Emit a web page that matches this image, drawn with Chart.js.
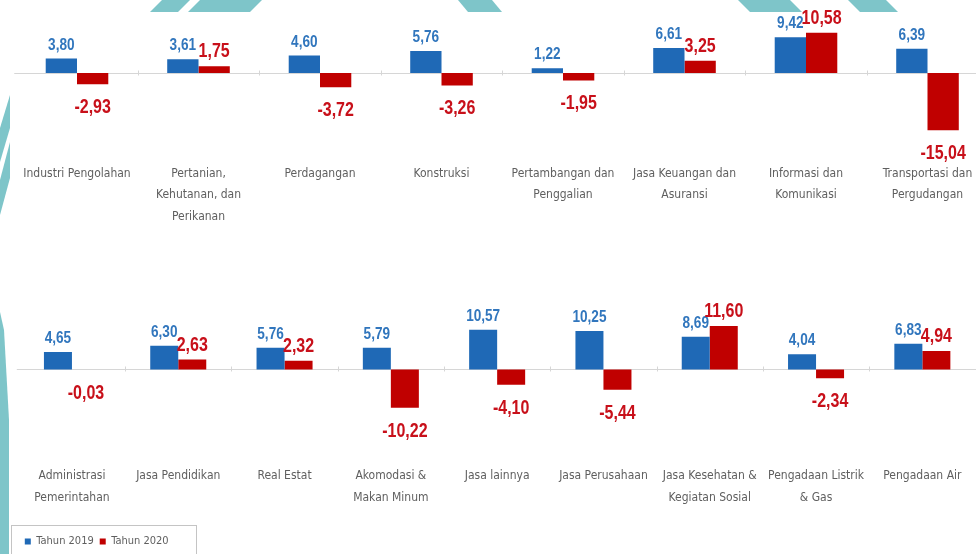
<!DOCTYPE html>
<html>
<head>
<meta charset="utf-8">
<script src="https://cdn.jsdelivr.net/npm/chart.js@4.4.1/dist/chart.umd.min.js"></script>
<style>
  html, body { margin: 0; padding: 0; width: 976px; height: 554px; overflow: hidden; background: #fff; }
  #deco { position: absolute; left: 0; top: 0; }
  canvas { position: absolute; left: 0; }
</style>
</head>
<body>
<svg id="deco" width="976" height="554">
  <g fill="#7ec5c9">
    <polygon points="162,0 190,0 178,12 150,12" />
    <polygon points="200,0 262,0 250,12 188,12" />
    <polygon points="458,0 492,0 502,12 468,12" />
    <polygon points="738,0 790,0 802,12 750,12" />
    <polygon points="848,0 886,0 898,12 860,12" />
    <polygon points="10,95 10,128 0,162 0,128" />
    <polygon points="10,142 10,178 0,215 0,180" />
    <polygon points="0,312 4,330 9,420 9,554 0,554" />
  </g>
  <rect x="10" y="12" width="966" height="542" fill="#fff" />
</svg>
<canvas id="topChart" width="1000" height="260" style="top:0px"></canvas>
<canvas id="bottomChart" width="1000" height="274" style="top:280px"></canvas>
<script>
const seriesNames = ["Tahun 2019", "Tahun 2020"];

const topCategories = [
  ["Industri Pengolahan"],
  ["Pertanian,", "Kehutanan, dan", "Perikanan"],
  ["Perdagangan"],
  ["Konstruksi"],
  ["Pertambangan dan", "Penggalian"],
  ["Jasa Keuangan dan", "Asuransi"],
  ["Informasi dan", "Komunikasi"],
  ["Transportasi dan", "Pergudangan"],
];
const top2019 = [3.80, 3.61, 4.60, 5.76, 1.22, 6.61, 9.42, 6.39];
const top2020 = [-2.93, 1.75, -3.72, -3.26, -1.95, 3.25, 10.58, -15.04];

const bottomCategories = [
  ["Administrasi", "Pemerintahan"],
  ["Jasa Pendidikan"],
  ["Real Estat"],
  ["Akomodasi &", "Makan Minum"],
  ["Jasa lainnya"],
  ["Jasa Perusahaan"],
  ["Jasa Kesehatan &", "Kegiatan Sosial"],
  ["Pengadaan Listrik", "& Gas"],
  ["Pengadaan Air"],
];
const bottom2019 = [4.65, 6.30, 5.76, 5.79, 10.57, 10.25, 8.69, 4.04, 6.83];
const bottom2020 = [-0.03, 2.63, 2.32, -10.22, -4.10, -5.44, 11.60, -2.34, 4.94];

const condensed = "'DejaVu Sans Condensed', 'Liberation Sans', sans-serif";
const labelFont = "'Liberation Sans', Arial, sans-serif";
const barColors = ["#1f69b6", "#c00000"];
const labelColors = ["#3176bd", "#c8101a"];

const fmt = (v) => v.toFixed(2).replace(".", ",");

// value labels above positive bars, below negative ones (squeezed like Arial Narrow)
const valueLabels = {
  id: "valueLabels",
  afterDatasetsDraw(chart) {
    const ctx = chart.ctx;
    chart.data.datasets.forEach((ds, i) => {
      const meta = chart.getDatasetMeta(i);
      meta.data.forEach((bar, j) => {
        const v = ds.data[j];
        const y = v >= 0 ? bar.y - 9 : bar.y + 29;
        ctx.save();
        ctx.font = (i === 0 ? "bold 17px " : "bold 20px ") + labelFont;
        ctx.fillStyle = labelColors[i];
        ctx.textAlign = "center";
        ctx.textBaseline = "alphabetic";
        ctx.translate(bar.x, y);
        ctx.scale(0.8, 1);
        ctx.fillText(fmt(v), 0, 0);
        ctx.restore();
      });
    });
  },
};

// grey zero line with little marks between categories
const zeroLine = {
  id: "zeroLine",
  beforeDatasetsDraw(chart) {
    const { ctx, chartArea, scales } = chart;
    const y0 = Math.round(scales.y.getPixelForValue(0)) + 0.5;
    ctx.save();
    ctx.strokeStyle = "#d6d6d6";
    ctx.lineWidth = 1;
    ctx.beginPath();
    ctx.moveTo(chartArea.left - 2, y0);
    ctx.lineTo(chart.width, y0);
    for (let i = 1; i < chart.data.labels.length; i++) {
      const px = Math.round(scales.x.getPixelForValue(i - 0.5)) + 0.5;
      ctx.moveTo(px, y0 - 3);
      ctx.lineTo(px, y0 + 2);
    }
    ctx.stroke();
    ctx.restore();
  },
};

const legendBox = {
  id: "legendBox",
  afterDraw(chart) {
    if (!chart.options.plugins.legend.display) return;
    const hb = chart.legend.legendHitBoxes[0];
    const mid = hb.top + hb.height / 2;
    const ctx = chart.ctx;
    ctx.save();
    ctx.strokeStyle = "#c4c4c4";
    ctx.lineWidth = 1;
    ctx.strokeRect(11.5, Math.round(mid - 17) + 0.5, 185, 40);
    ctx.restore();
  },
};

function makeChart(id, labels, a, b, cfg) {
  return new Chart(document.getElementById(id), {
    type: "bar",
    data: {
      labels,
      datasets: [
        { label: seriesNames[0], data: a, backgroundColor: barColors[0] },
        { label: seriesNames[1], data: b, backgroundColor: barColors[1] },
      ],
    },
    options: {
      responsive: false,
      animation: false,
      devicePixelRatio: 1,
      layout: { padding: cfg.padding },
      datasets: { bar: { categoryPercentage: cfg.catPct, barPercentage: 1 } },
      scales: {
        x: {
          grid: { display: false, drawTicks: false },
          border: { display: false },
          ticks: {
            padding: cfg.tickPad,
            color: "#5f5f5f",
            maxRotation: 0,
            autoSkip: false,
            font: { family: condensed, size: 12, lineHeight: 1.8 },
          },
          afterFit: (scale) => {
            scale.height = cfg.xHeight;
            scale.paddingLeft = 0;
            scale.paddingRight = 0;
          },
        },
        y: { display: false, min: cfg.ymin, max: cfg.ymax },
      },
      plugins: {
        legend: {
          display: cfg.legend,
          position: "bottom",
          align: "start",
          labels: {
            boxWidth: 6,
            boxHeight: 6,
            padding: 6,
            color: "#5f5f5f",
            font: { family: condensed, size: 11 },
          },
        },
        tooltip: { enabled: false },
      },
    },
    plugins: [zeroLine, valueLabels, legendBox],
  });
}

makeChart("topChart", topCategories, top2019, top2020, {
  padding: { left: 16.25, right: 11.75, top: 27.4, bottom: 0 },
  catPct: 0.515,
  ymin: -17,
  ymax: 12,
  xHeight: 122.4,
  tickPad: 25,
  legend: false,
});

makeChart("bottomChart", bottomCategories, bottom2019, bottom2020, {
  padding: { left: 18.8, right: 24.5, top: 40.65, bottom: -3 },
  catPct: 0.527,
  ymin: -13,
  ymax: 13,
  xHeight: 111.75,
  tickPad: 47,
  legend: true,
});
</script>
</body>
</html>
